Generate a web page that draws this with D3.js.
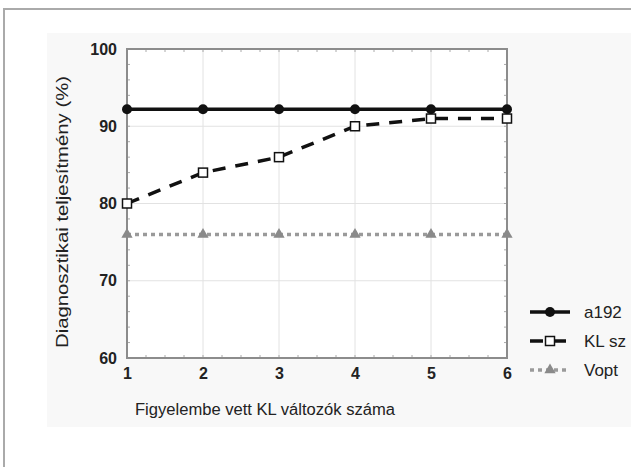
<!DOCTYPE html>
<html>
<head>
<meta charset="utf-8">
<script src="https://cdn.jsdelivr.net/npm/d3@7"></script>
<style>
  body { margin: 0; background: #fff; }
  text { font-family: "Liberation Sans", Arial, sans-serif; fill: #222; }
</style>
</head>
<body>
<svg width="631" height="467"></svg>
<script>
var width = 631;
var height = 467;
var margin = {left: 127, top: 49, right: 124, bottom: 109};

// data
var kValues   = [1, 2, 3, 4, 5, 6];
var a192      = [92.2, 92.2, 92.2, 92.2, 92.2, 92.2];
var klSel     = [80, 84, 86, 90, 91, 91];
var vopt      = [76, 76, 76, 76, 76, 76];
var yTicks    = [60, 70, 80, 90, 100];
var seriesNames = ["a192", "KL sz", "Vopt"];

var svg = d3.select('svg');

var x = d3.scaleLinear().domain([1, 6]).range([margin.left, width - margin.right]);
var y = d3.scaleLinear().domain([60, 100]).range([height - margin.bottom, margin.top]);

// outer frame + panel
svg.append('rect')
  .attr('x', 4).attr('y', 9).attr('width', 700).attr('height', 600)
  .attr('fill', '#fff').attr('stroke', '#aaa').attr('stroke-width', 2);
svg.append('rect')
  .attr('x', 47).attr('y', 33).attr('width', 600).attr('height', 394)
  .attr('fill', '#f8f8f8');
svg.append('rect')
  .attr('x', x(1)).attr('y', y(100))
  .attr('width', x(6) - x(1)).attr('height', y(60) - y(100))
  .attr('fill', '#fff');

// gridlines
svg.append('g').selectAll('line').data(kValues.slice(1, -1)).enter().append('line')
  .attr('x1', d => x(d)).attr('x2', d => x(d))
  .attr('y1', y(100)).attr('y2', y(60))
  .attr('stroke', '#e2e2e2').attr('stroke-width', 1);
svg.append('g').selectAll('line').data(yTicks.slice(1, -1)).enter().append('line')
  .attr('x1', x(1)).attr('x2', x(6))
  .attr('y1', d => y(d)).attr('y2', d => y(d))
  .attr('stroke', '#e2e2e2').attr('stroke-width', 1);

// minor ticks inside frame
var xMinor = d3.range(1, 6.001, 0.25);
var yMinor = d3.range(60, 100.001, 2);
var minor = svg.append('g').attr('stroke', '#aaa').attr('stroke-width', 1);
minor.selectAll('.tb').data(xMinor).enter().append('line')
  .attr('x1', d => x(d)).attr('x2', d => x(d)).attr('y1', y(100)).attr('y2', y(100) + 3);
minor.selectAll('.bb').data(xMinor).enter().append('line')
  .attr('x1', d => x(d)).attr('x2', d => x(d)).attr('y1', y(60)).attr('y2', y(60) - 3);
minor.selectAll('.lb').data(yMinor).enter().append('line')
  .attr('y1', d => y(d)).attr('y2', d => y(d)).attr('x1', x(1)).attr('x2', x(1) + 3);
minor.selectAll('.rb').data(yMinor).enter().append('line')
  .attr('y1', d => y(d)).attr('y2', d => y(d)).attr('x1', x(6)).attr('x2', x(6) - 3);

// plot frame
svg.append('rect')
  .attr('x', x(1)).attr('y', y(100))
  .attr('width', x(6) - x(1)).attr('height', y(60) - y(100))
  .attr('fill', 'none').attr('stroke', '#8c8c8c').attr('stroke-width', 2);

// axes (labels only)
var axisBottom = d3.axisBottom(x).tickValues(kValues).tickFormat(d3.format('d')).tickSize(0).tickPadding(10);
var axisLeft = d3.axisLeft(y).tickValues(yTicks).tickFormat(d3.format('d')).tickSize(0).tickPadding(10);

var gx = svg.append('g')
  .attr('transform', 'translate(0,' + y(60) + ')')
  .call(axisBottom);
var gy = svg.append('g')
  .attr('transform', 'translate(' + x(1) + ',0)')
  .call(axisLeft);
[gx, gy].forEach(function (g) {
  g.select('.domain').remove();
  g.selectAll('text')
    .style('font-family', '"Liberation Sans", Arial, sans-serif')
    .style('font-size', '16px')
    .style('font-weight', 'bold')
    .attr('fill', '#2a2a2a');
});
gx.selectAll('text').attr('dy', '0.71em');

// series
var line = d3.line()
  .x((d, i) => x(kValues[i]))
  .y(d => y(d));

svg.append('path').datum(vopt)
  .attr('d', line).attr('fill', 'none')
  .attr('stroke', '#9a9a9a').attr('stroke-width', 3.5)
  .attr('stroke-dasharray', '4,4');
svg.append('path').datum(klSel)
  .attr('d', line).attr('fill', 'none')
  .attr('stroke', '#111').attr('stroke-width', 3.5)
  .attr('stroke-dasharray', '13,10');
svg.append('path').datum(a192)
  .attr('d', line).attr('fill', 'none')
  .attr('stroke', '#111').attr('stroke-width', 3.5);

svg.selectAll('.vm').data(vopt).enter().append('path')
  .attr('d', d3.symbol().type(d3.symbolTriangle).size(55))
  .attr('transform', (d, i) => 'translate(' + x(kValues[i]) + ',' + y(d) + ')')
  .attr('fill', '#8a8a8a');
svg.selectAll('.am').data(a192).enter().append('circle')
  .attr('cx', (d, i) => x(kValues[i])).attr('cy', d => y(d))
  .attr('r', 5).attr('fill', '#111');
svg.selectAll('.km').data(klSel).enter().append('rect')
  .attr('x', (d, i) => x(kValues[i]) - 4.5).attr('y', d => y(d) - 4.5)
  .attr('width', 9).attr('height', 9)
  .attr('fill', '#fff').attr('stroke', '#111').attr('stroke-width', 1.5);

// axis titles
svg.append('text')
  .attr('x', 265)
  .attr('y', 415)
  .style('text-anchor', 'middle')
  .style('font-size', '16px')
  .attr('textLength', 260).attr('lengthAdjust', 'spacingAndGlyphs')
  .text('Figyelembe vett KL változók száma');

svg.append('text')
  .attr('transform', 'rotate(-90)')
  .attr('x', -212)
  .attr('y', 68)
  .style('text-anchor', 'middle')
  .style('font-size', '17px')
  .attr('textLength', 272).attr('lengthAdjust', 'spacingAndGlyphs')
  .text('Diagnosztikai teljesítmény (%)');

// legend
var legendY = [312, 341, 370];
var lg = svg.append('g');
lg.append('line').attr('x1', 530).attr('x2', 570).attr('y1', legendY[0]).attr('y2', legendY[0])
  .attr('stroke', '#111').attr('stroke-width', 3.5);
lg.append('circle').attr('cx', 550).attr('cy', legendY[0]).attr('r', 5).attr('fill', '#111');
lg.append('line').attr('x1', 530).attr('x2', 570).attr('y1', legendY[1]).attr('y2', legendY[1])
  .attr('stroke', '#111').attr('stroke-width', 3.5).attr('stroke-dasharray', '13,10');
lg.append('rect').attr('x', 545.5).attr('y', legendY[1] - 4.5).attr('width', 9).attr('height', 9)
  .attr('fill', '#fff').attr('stroke', '#111').attr('stroke-width', 1.5);
lg.append('line').attr('x1', 530).attr('x2', 570).attr('y1', legendY[2]).attr('y2', legendY[2])
  .attr('stroke', '#9a9a9a').attr('stroke-width', 3.5).attr('stroke-dasharray', '4,4');
lg.append('path').attr('d', d3.symbol().type(d3.symbolTriangle).size(55))
  .attr('transform', 'translate(550,' + legendY[2] + ')').attr('fill', '#8a8a8a');
lg.selectAll('text').data(seriesNames).enter().append('text')
  .attr('x', 584).attr('y', (d, i) => legendY[i]).attr('dy', '0.35em')
  .style('font-size', '17px')
  .text(d => d);
</script>
</body>
</html>
